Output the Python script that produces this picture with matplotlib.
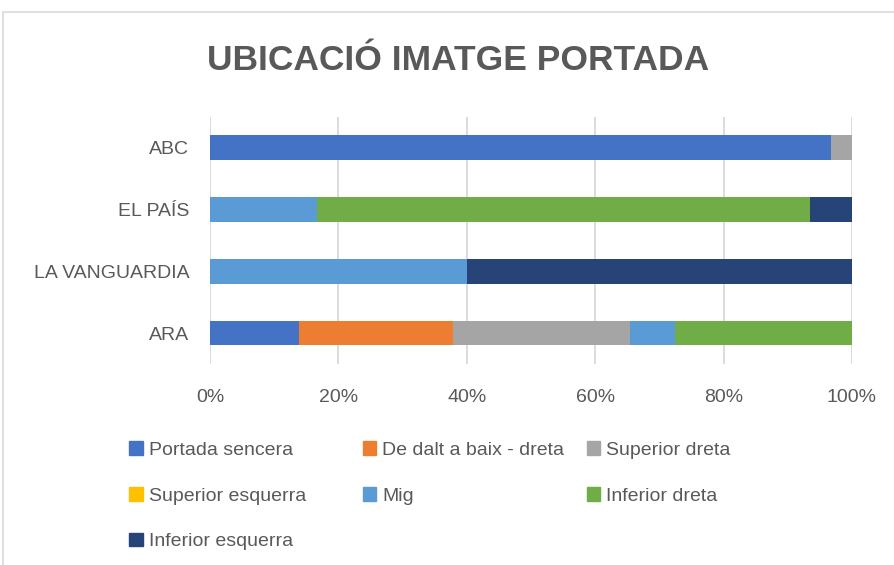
import matplotlib.pyplot as plt
import numpy as np
from matplotlib.patches import Rectangle

# dades
categories = ['ARA', 'LA VANGUARDIA', 'EL PAÍS', 'ABC']
series_names = ['Portada sencera', 'De dalt a baix - dreta', 'Superior dreta',
                'Superior esquerra', 'Mig', 'Inferior dreta', 'Inferior esquerra']
portada_sencera = [13.8, 0, 0, 96.7]
dalt_baix_dreta = [24.1, 0, 0, 0]
superior_dreta = [27.6, 0, 0, 3.3]
superior_esquerra = [0, 0, 0, 0]
mig = [6.9, 40.0, 16.7, 0]
inferior_dreta = [27.6, 0, 76.7, 0]
inferior_esquerra = [0, 60.0, 6.6, 0]
colors = ['#4472C4', '#ED7D31', '#A5A5A5', '#FFC000', '#5B9BD5', '#70AD47', '#264478']

values = [portada_sencera, dalt_baix_dreta, superior_dreta, superior_esquerra,
          mig, inferior_dreta, inferior_esquerra]

txt = '#595959'
plt.rcParams['font.family'] = ['Liberation Sans', 'DejaVu Sans']

fig = plt.figure(figsize=(8.94, 5.65), dpi=100)
ax = fig.add_axes([0.2349, 0.3558, 0.7181, 0.4372])

y = np.arange(len(categories))
left = np.zeros(len(categories))
handles = []
for name, vals, c in zip(series_names, values, colors):
    vals = np.array(vals, dtype=float)
    ax.barh(y, vals, left=left, height=0.4, color=c, label=name, zorder=3)
    left += vals
    handles.append(Rectangle((0, 0), 1, 1, color=c))

ax.set_xlim(0, 100)
ax.set_ylim(-0.5, len(categories) - 0.5)
ax.set_xticks(np.arange(0, 101, 20))
ax.set_xticklabels([f'{v}%' for v in range(0, 101, 20)])
ax.set_yticks(y)
ax.set_yticklabels(categories)
ax.tick_params(axis='both', length=0, labelsize=14, colors=txt)
ax.tick_params(axis='x', pad=18)
ax.tick_params(axis='y', pad=15)
ax.grid(axis='x', color='#D9D9D9', linewidth=1.3, zorder=0)
for s in ax.spines.values():
    s.set_visible(False)

fig.text(0.512, 0.893, 'UBICACIÓ IMATGE PORTADA', ha='center', va='center',
         fontsize=25.5, fontweight='bold', color=txt)

# llegenda en tres columnes d'amplada fixa, com a Excel
columns = [[0, 3, 6], [1, 4], [2, 5]]
col_x = [0.125, 0.386, 0.6365]
for idx, cx in zip(columns, col_x):
    leg = fig.legend([handles[i] for i in idx], [series_names[i] for i in idx],
                     loc='upper left', bbox_to_anchor=(cx, 0.25),
                     frameon=False, fontsize=14, labelcolor=txt,
                     handlelength=0.7, handleheight=0.7, handletextpad=0.3,
                     labelspacing=1.45)

fig.patches.append(Rectangle((3 / 894, -0.01), 1.0, 1 - 12 / 565 + 0.01,
                             transform=fig.transFigure, fill=False,
                             edgecolor='#D9D9D9', linewidth=1.2))

fig.savefig('out.png', dpi=100)
